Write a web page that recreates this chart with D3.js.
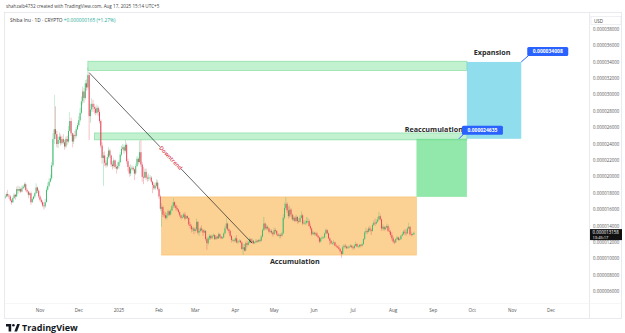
<!DOCTYPE html>
<html><head><meta charset="utf-8">
<script src="https://cdn.jsdelivr.net/npm/d3@7/dist/d3.min.js"></script>
<style>
html,body{margin:0;padding:0;background:#fff;}
svg{display:block;font-family:"Open Sans","Noto Sans",Arial,sans-serif;}
</style></head>
<body>
<svg id="c" width="625" height="333"></svg>
<script>
// ---- DATA (prices in units of 1e-6 USD) ----
const firstDate = "2024-10-04";
const firstOpen = 17.3;
const closes = [
// Oct 4-31 2024
17.4,17.6,17.9,17.7,17.6,17.1,16.9,17.4,17.8,17.6,18.5,18.3,18.5,18.2,18.6,18.8,19.1,18.4,18.2,17.8,18.0,16.9,17.3,17.6,18.0,18.7,18.3,17.6,
// Nov
17.2,16.9,16.5,16.4,16.9,18.4,18.9,19.4,19.8,21.4,24.6,25.8,25.2,24.0,24.5,24.9,24.1,24.6,24.2,23.7,24.6,24.3,25.6,26.8,25.3,24.3,25.1,25.0,25.8,26.3,
// Dec
26.9,27.8,29.2,30.4,29.6,31.4,30.9,32.4,27.4,28.2,28.9,28.5,28.3,27.8,28.4,27.9,26.8,23.8,22.3,22.6,21.7,21.4,22.4,23.2,22.6,21.5,21.3,22.0,21.2,21.0,21.3,
// Jan 2025
21.8,22.7,23.4,23.6,23.2,23.9,21.9,21.2,20.4,21.0,21.1,20.9,20.4,21.3,22.2,21.8,23.0,21.5,20.0,19.9,20.6,19.9,19.8,19.9,19.9,19.4,19.0,18.6,18.9,19.3,18.5,
// Feb
17.6,16.1,16.3,15.4,15.3,15.0,15.3,15.8,15.4,15.9,16.4,16.9,16.5,16.2,16.0,15.7,15.3,15.0,15.1,15.4,14.9,15.2,15.0,14.2,14.0,13.6,13.7,13.4,
// Mar
13.6,14.5,13.2,13.4,13.7,13.5,13.2,13.4,12.4,11.9,12.5,12.8,12.5,12.8,12.9,12.4,12.7,12.5,13.0,12.7,12.5,12.6,13.1,13.7,14.3,13.6,13.4,12.8,12.3,12.3,12.2,
// Apr
12.5,12.0,12.1,12.2,12.0,11.2,11.4,11.0,11.9,11.7,12.0,12.4,12.0,12.2,11.9,12.0,12.2,12.1,12.3,12.2,12.7,13.5,14.3,13.7,13.9,13.7,13.3,13.4,13.2,13.0,
// May
13.5,13.4,13.0,12.8,12.9,12.8,13.1,15.0,16.2,16.7,15.9,15.2,16.0,15.4,14.8,15.0,14.6,15.1,14.6,14.5,15.0,15.3,14.3,14.4,14.4,14.6,14.6,14.0,13.7,13.0,13.2,
// Jun
13.0,13.1,12.8,12.6,12.1,12.5,12.6,12.6,13.1,13.5,13.1,12.5,12.2,11.9,11.9,12.0,11.6,11.5,11.4,11.2,10.9,10.6,11.4,11.6,11.5,11.3,11.4,11.5,11.6,11.4,
// Jul
11.3,11.6,11.8,11.5,11.5,11.7,11.6,11.8,12.4,13.2,13.4,13.3,13.7,13.5,13.4,14.1,14.4,14.3,14.5,14.8,15.2,14.8,13.7,13.9,13.6,13.8,14.0,13.4,13.3,12.9,12.5,
// Aug 1-17
12.1,12.0,12.4,12.6,12.3,12.4,12.8,13.0,13.3,13.2,13.1,13.7,13.9,13.0,12.9,12.993,13.158
];
const highs = [
17.8,17.8,18.1,18.4,17.9,17.8,17.3,17.6,18.0,17.9,18.8,18.9,18.8,18.7,18.9,19.0,19.3,19.3,18.6,18.3,18.2,18.2,17.5,17.7,18.1,19.2,18.8,18.5,
17.8,17.4,17.1,16.9,17.3,18.7,19.3,19.8,20.3,21.8,25.3,30.0,28.6,25.6,24.9,25.4,25.2,25.0,25.2,24.5,24.9,25.0,26.2,27.9,27.2,25.4,25.3,25.6,26.1,26.6,
27.4,28.4,29.8,31.0,30.8,31.8,31.9,33.3,32.6,28.9,29.6,29.4,28.9,28.6,28.8,28.6,28.2,27.0,24.2,23.0,23.1,22.0,22.8,23.6,23.4,22.7,21.9,22.3,22.1,21.5,21.8,
22.0,23.0,23.8,24.0,23.8,24.5,24.1,22.2,21.4,21.5,21.4,21.3,21.0,21.6,22.5,22.4,24.4,24.5,21.8,21.2,21.0,21.0,20.2,20.4,20.2,20.1,19.5,19.2,19.3,19.7,19.6,
18.7,17.8,16.8,16.5,15.8,15.7,15.6,16.0,15.9,16.1,16.6,17.4,17.0,16.6,16.4,16.1,15.8,15.4,15.4,15.6,15.7,15.3,15.3,15.0,14.5,14.2,13.9,13.9,
13.8,14.9,14.6,13.7,13.9,14.1,13.6,13.6,13.5,12.6,12.7,13.0,12.9,13.0,13.1,13.0,12.9,12.8,13.2,13.1,12.8,12.7,13.2,14.0,15.0,14.4,13.7,13.5,12.9,12.5,12.4,
12.7,12.9,12.3,12.4,12.3,12.1,11.8,11.8,12.1,12.2,12.2,12.6,12.5,12.5,12.3,12.1,12.4,12.3,12.4,12.4,12.9,13.7,15.1,14.4,14.2,14.1,13.8,13.6,13.6,13.3,
13.8,13.7,13.5,13.1,13.1,13.1,13.3,15.4,16.8,17.5,16.9,16.4,16.5,16.2,15.5,15.3,15.2,15.4,15.2,14.9,15.3,15.8,15.5,14.7,14.7,15.1,15.0,14.8,14.3,13.8,13.4,
13.3,13.2,13.3,12.9,12.7,12.6,12.8,12.7,13.2,13.7,13.6,13.2,12.6,12.3,12.1,12.3,12.1,11.8,11.6,11.7,11.3,11.0,11.6,11.8,11.8,11.6,11.6,11.6,11.8,11.7,
11.6,11.8,12.1,11.9,11.6,11.8,11.8,11.9,12.5,13.4,13.8,13.6,13.9,14.0,13.7,14.3,14.7,14.9,14.8,15.1,15.7,15.4,14.9,14.2,14.0,14.0,14.3,14.2,13.8,13.5,13.2,
12.7,12.3,12.5,12.8,12.7,12.6,12.9,13.3,13.5,13.6,13.6,13.9,14.4,14.0,13.3,13.1,13.3
];
const lows = [
17.1,17.3,17.5,17.5,17.3,17.0,16.6,16.8,17.3,17.2,17.5,17.9,18.1,18.0,18.1,18.5,18.6,18.2,18.0,17.4,17.7,16.6,16.8,17.2,17.4,17.9,18.0,17.4,
17.0,16.7,16.3,16.0,16.2,16.9,18.2,18.7,19.3,19.6,21.2,24.0,24.6,23.6,23.5,24.1,23.8,23.9,24.0,23.3,23.5,23.9,24.1,25.5,25.0,23.6,24.0,24.6,24.8,25.7,
26.1,26.7,27.6,28.8,29.0,29.4,30.5,30.6,24.5,26.6,27.9,27.9,27.7,27.5,27.6,27.4,26.5,23.5,21.6,18.9,21.3,21.1,21.2,22.2,22.3,21.2,20.9,21.1,21.0,20.4,20.8,
21.0,21.6,22.5,23.2,22.8,23.0,21.6,20.7,20.0,20.1,20.8,20.7,19.6,20.2,21.2,21.5,21.7,21.2,19.4,19.1,19.8,19.6,19.4,19.5,19.6,19.2,18.0,18.4,18.4,18.7,18.3,
17.3,15.8,13.9,15.1,15.0,14.8,14.8,15.2,15.2,15.3,15.8,16.2,16.2,15.9,15.8,15.5,15.1,14.8,14.9,15.0,14.7,14.9,14.8,14.0,13.7,13.2,13.3,13.0,
13.2,13.4,13.0,12.8,13.2,13.3,12.8,13.1,12.2,11.1,11.7,12.3,12.3,12.4,12.7,12.3,12.3,12.4,12.4,12.5,12.4,12.4,12.5,13.0,13.6,13.4,13.1,12.6,12.0,12.1,12.0,
12.0,11.9,11.8,12.0,11.9,11.1,10.5,10.9,10.9,11.4,11.6,11.9,11.9,11.9,11.8,11.8,11.9,12.0,12.0,12.0,12.1,12.6,13.4,13.5,13.5,13.5,13.1,13.1,13.0,12.7,
12.9,13.2,12.8,12.7,12.5,12.5,12.7,13.0,14.8,16.0,15.6,14.9,15.0,15.1,14.6,14.6,14.5,14.5,14.3,14.3,14.4,14.9,14.1,14.2,14.1,14.2,14.3,13.9,13.5,12.8,12.9,
12.8,12.8,12.7,12.5,11.9,12.0,12.4,12.4,12.5,13.0,13.0,12.4,11.7,11.8,11.7,11.7,11.5,11.3,11.3,11.1,10.8,10.1,10.5,11.2,11.3,11.2,11.2,11.3,11.4,11.3,
11.1,11.2,11.5,11.4,11.3,11.4,11.4,11.5,11.7,12.3,13.0,13.0,13.2,13.3,12.9,13.3,14.0,14.0,14.2,14.4,14.7,14.6,13.4,13.5,13.4,13.5,13.7,13.3,13.0,12.7,12.2,
11.9,11.8,11.9,12.3,12.2,12.2,12.3,12.7,12.9,12.9,12.8,13.0,13.6,12.8,12.7,12.8,12.9
];
const priceTicks = [6,8,10,12,14,16,18,20,22,24,26,28,30,32,34,36,38];
const monthTicks = ["2024-11-01","2024-12-01","2025-01-01","2025-02-01","2025-03-01","2025-04-01","2025-05-01","2025-06-01","2025-07-01","2025-08-01","2025-09-01","2025-10-01","2025-11-01","2025-12-01"];
const monthLabels = ["Nov","Dec","2025","Feb","Mar","Apr","May","Jun","Jul","Aug","Sep","Oct","Nov","Dec"];
// zones: [startDate, endDate, topPrice, bottomPrice]
const expansionBand = ["2024-12-08","2025-09-27",34.1,32.95];
const reaccBand = ["2024-12-13","2025-09-27",25.35,24.5];
const accumulationBox = ["2025-02-03","2025-08-19",17.55,10.45];
const reaccBox = ["2025-08-19","2025-09-27",24.635,17.55];
const expansionBox = ["2025-09-27","2025-11-08",34.008,24.635];
const trendLine = [["2024-12-09",32.7],["2025-04-14",11.9]];
const lastPrice = 13.158;

// ---- DRAW ----
const svg = d3.select("#c");
const P = s => new Date(s + "T00:00:00Z");
const x = d3.scaleUtc().domain([P("2024-11-01"), P("2025-12-01")]).range([40, 551]);
const y = d3.scaleLinear().domain([6, 38]).range([291.6, 29.2]);
const green = "#3dba6e", red = "#e6475a";

// header
svg.append("text").attr("x",6).attr("y",8).attr("font-size",4.6).attr("fill","#444")
  .text("shahzaib4732 created with TradingView.com, Aug 17, 2025 15:14 UTC+5");

// frame
svg.append("rect").attr("x",4.5).attr("y",12.5).attr("width",617).attr("height",306)
  .attr("fill","none").attr("stroke","#e3e5ea").attr("stroke-width",0.8);
svg.append("line").attr("x1",589.5).attr("x2",589.5).attr("y1",12.5).attr("y2",318.5).attr("stroke","#e3e5ea").attr("stroke-width",0.8);
svg.append("line").attr("x1",4.5).attr("x2",621.5).attr("y1",303.5).attr("y2",303.5).attr("stroke","#eef0f3").attr("stroke-width",0.6);

const plot = svg.append("g");
plot.append("defs").append("clipPath").attr("id","clipP").append("rect").attr("x",5).attr("y",13).attr("width",584).attr("height",290);
const g = plot.append("g").attr("clip-path","url(#clipP)");

function zone(z, fill, stroke){
  g.append("rect").attr("x", x(P(z[0]))).attr("y", y(z[2]))
    .attr("width", x(P(z[1])) - x(P(z[0]))).attr("height", y(z[3]) - y(z[2]))
    .attr("fill", fill).attr("stroke", stroke).attr("stroke-width", 0.6);
}
zone(accumulationBox, "rgba(247,172,60,0.55)", "rgba(247,172,60,0.6)");
zone(expansionBand, "rgba(120,224,150,0.45)", "rgba(90,205,125,0.7)");
zone(reaccBand, "rgba(120,224,150,0.45)", "rgba(90,205,125,0.7)");
zone(reaccBox, "rgba(100,222,135,0.7)", "none");
zone(expansionBox, "rgba(96,206,230,0.7)", "none");

// candles
const t0 = P(firstDate).getTime();
const n = Math.min(closes.length, highs.length, lows.length);
const candles = d3.range(n).map(i => ({
  date: new Date(t0 + i*864e5),
  o: i === 0 ? firstOpen : closes[i-1], c: closes[i], h: highs[i], l: lows[i]
}));
const cg = g.append("g");
cg.selectAll("line.w").data(candles).join("line")
  .attr("x1", d => x(d.date)).attr("x2", d => x(d.date))
  .attr("y1", d => y(Math.max(d.h, d.o, d.c))).attr("y2", d => y(Math.min(d.l, d.o, d.c)))
  .attr("stroke", d => d.c >= d.o ? green : red).attr("stroke-width", 0.45).attr("opacity",0.75);
cg.selectAll("rect.b").data(candles).join("rect")
  .attr("x", d => x(d.date) - 0.5).attr("width", 1.0)
  .attr("y", d => y(Math.max(d.o, d.c)))
  .attr("height", d => Math.max(0.6, Math.abs(y(d.o) - y(d.c))))
  .attr("fill", d => d.c >= d.o ? green : red);

// trend line with text in the middle
{
  const x1 = x(P(trendLine[0][0])), y1 = y(trendLine[0][1]);
  const x2 = x(P(trendLine[1][0])), y2 = y(trendLine[1][1]);
  const ang = Math.atan2(y2-y1, x2-x1) * 180/Math.PI;
  const lerp = t => [x1 + (x2-x1)*t, y1 + (y2-y1)*t];
  const a = lerp(0.435), b = lerp(0.565);
  g.append("line").attr("x1",x1).attr("y1",y1).attr("x2",a[0]).attr("y2",a[1]).attr("stroke","#222").attr("stroke-width",0.7);
  g.append("line").attr("x1",b[0]).attr("y1",b[1]).attr("x2",x2).attr("y2",y2).attr("stroke","#222").attr("stroke-width",0.7);
  const m = lerp(0.5);
  g.append("text").attr("transform", `translate(${m[0]},${m[1]}) rotate(${ang})`)
    .attr("text-anchor","middle").attr("dy","0.35em").attr("font-size",5.6).attr("fill","#d9404f")
    .attr("font-weight",600).text("Downtrend");
}

// labels
g.append("text").attr("x", x(P("2025-05-17"))).attr("y", y(accumulationBox[3]) + 8.5)
  .attr("text-anchor","middle").attr("font-size",7.2).attr("font-weight",700).attr("fill","#2a2a2a").text("Accumulation");
g.append("text").attr("x", x(P("2025-09-27")) - 4).attr("y", y(reaccBand[2]) - 1)
  .attr("text-anchor","end").attr("font-size",7.2).attr("font-weight",700).attr("fill","#2a2a2a").text("Reaccumulation");
g.append("text").attr("x", (x(P(expansionBox[0])) + x(P(expansionBox[1])))/2 - 2).attr("y", y(expansionBox[2]) - 7)
  .attr("text-anchor","middle").attr("font-size",7.2).attr("font-weight",700).attr("fill","#2a2a2a").text("Expansion");

function badge(px, py, bx, by, txt){
  g.append("line").attr("x1",px).attr("y1",py).attr("x2",bx+2).attr("y2",by+8).attr("stroke","#2962ff").attr("stroke-width",1);
  g.append("rect").attr("x",bx).attr("y",by).attr("width",41).attr("height",9).attr("rx",1.5).attr("fill","#2962ff");
  g.append("text").attr("x",bx+20.5).attr("y",by+6.4).attr("text-anchor","middle").attr("font-size",5).attr("font-weight",700).attr("fill","#fff").text(txt);
}
badge(x(P(expansionBox[1])), y(expansionBox[2]), x(P(expansionBox[1])) + 6, y(expansionBox[2]) - 15, "0.000034008");
badge(x(P(reaccBox[1])) - 8, y(reaccBox[2]), x(P(reaccBox[1])) - 5, y(reaccBox[2]) - 13, "0.000024635");

// legend
const lg = svg.append("text").attr("x",10).attr("y",22).attr("font-size",4.8);
lg.append("tspan").attr("fill","#333").text("Shiba Inu · 1D · CRYPTO  ");
lg.append("tspan").attr("fill","#22ab94").text(" +0.000000165 (+1.27%)");

// price axis
const ya = svg.append("g").attr("transform","translate(590,0)");
ya.selectAll("text").data(priceTicks).join("text")
  .attr("x",3).attr("y", d => y(d) + 1.6).attr("font-size",4.4).attr("fill","#555")
  .text(d => (d*1e-6).toFixed(9));
svg.append("rect").attr("x",591).attr("y",16.5).attr("width",30).attr("height",8).attr("fill","#fff").attr("stroke","#e3e5ea").attr("stroke-width",0.6);
svg.append("text").attr("x",594).attr("y",22.5).attr("font-size",4.6).attr("fill","#444").text("USD");
// last price label
svg.append("rect").attr("x",590).attr("y",y(lastPrice)-3.8).attr("width",32).attr("height",11).attr("fill","#111");
svg.append("text").attr("x",592.5).attr("y",y(lastPrice)+1.2).attr("font-size",4.4).attr("fill","#fff").text((lastPrice*1e-6).toFixed(9));
svg.append("text").attr("x",592.5).attr("y",y(lastPrice)+6.2).attr("font-size",4.0).attr("fill","#fff").text("13:45:17");

// time axis
const xa = svg.append("g");
xa.selectAll("text").data(monthTicks).join("text")
  .attr("x", d => x(P(d))).attr("y",312).attr("text-anchor","middle")
  .attr("font-size",4.6).attr("fill","#555")
  .text((d,i) => monthLabels[i]);

// TradingView logo
const lgG = svg.append("g").attr("transform","translate(6,324)");
lgG.append("path").attr("d","M0,0 H5.2 V7.5 H2.6 V2.6 H0 Z").attr("fill","#131722");
lgG.append("circle").attr("cx",7.4).attr("cy",1.3).attr("r",1.3).attr("fill","#131722");
lgG.append("path").attr("d","M8.4,7.5 L11.2,0 H13.9 L11.1,7.5 Z").attr("fill","#131722");
svg.append("text").attr("x",22).attr("y",331.2).attr("font-size",9).attr("font-weight",700).attr("fill","#131722").text("TradingView");
</script>
</body></html>
